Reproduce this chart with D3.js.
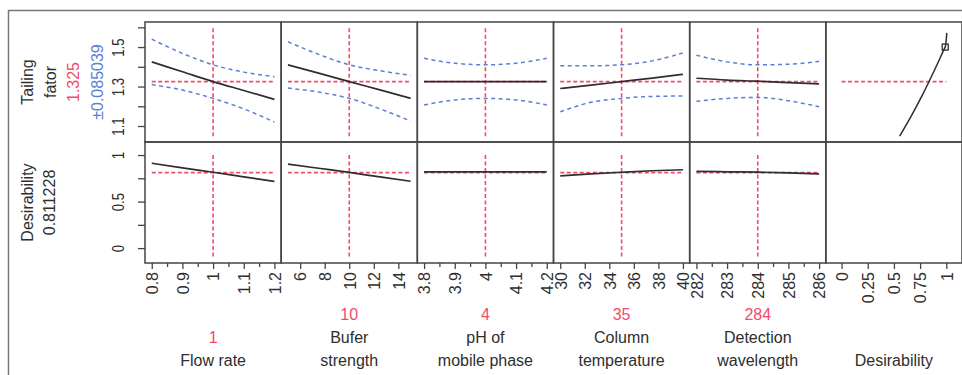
<!DOCTYPE html>
<html>
<head>
<meta charset="utf-8">
<script src="https://cdn.jsdelivr.net/npm/d3@7"></script>
<style>
  body { margin: 0; background: #fff; }
  svg text { font-family: "Liberation Sans", Arial, sans-serif; fill: #333; }
</style>
</head>
<body>
<div id="vis"></div>
<script>
// Prediction profiler: Tailing factor + Desirability vs five method factors.

const FACTOR_LABELS = [["Flow rate"], ["Bufer", "strength"], ["pH of", "mobile phase"], ["Column", "temperature"], ["Detection", "wavelength"]];
const FACTOR_CURRENT = [1, 10, 4, 35, 284];
const FACTOR_RANGE = [[0.8, 1.2], [5, 15], [3.8, 4.2], [30, 40], [282, 286]];
const FACTOR_TICKS = [[0.8, 0.9, 1, 1.1, 1.2], [6, 8, 10, 12, 14], [3.8, 3.9, 4, 4.1, 4.2], [30, 32, 34, 36, 38, 40], [282, 283, 284, 285, 286]];
const FACTOR_MINOR = [[0.85, 0.95, 1.05, 1.15], [], [3.85, 3.95, 4.05, 4.15], [], [282.5, 283.5, 284.5, 285.5]];

// sample points along each factor
const X_POINTS = [[0.8, 0.9, 1, 1.1, 1.2], [5, 7.5, 10, 12.5, 15], [3.8, 3.9, 4, 4.1, 4.2], [30, 32.5, 35, 37.5, 40], [282, 283, 284, 285, 286]];

const TAIL_PRED = [
  [1.425, 1.375, 1.325, 1.28, 1.235],
  [1.41, 1.368, 1.325, 1.283, 1.24],
  [1.325, 1.325, 1.325, 1.325, 1.325],
  [1.29, 1.307, 1.325, 1.343, 1.362],
  [1.342, 1.333, 1.327, 1.32, 1.313],
];
const TAIL_UPPER = [
  [1.54, 1.468, 1.41, 1.373, 1.35],
  [1.527, 1.463, 1.41, 1.38, 1.357],
  [1.443, 1.418, 1.41, 1.418, 1.443],
  [1.405, 1.405, 1.41, 1.43, 1.47],
  [1.459, 1.425, 1.41, 1.413, 1.428],
];
const TAIL_LOWER = [
  [1.31, 1.282, 1.24, 1.187, 1.12],
  [1.292, 1.272, 1.24, 1.187, 1.125],
  [1.207, 1.232, 1.24, 1.232, 1.207],
  [1.172, 1.22, 1.24, 1.25, 1.252],
  [1.225, 1.24, 1.245, 1.228, 1.198],
];
const DESIR_PRED = [
  [0.912, 0.862, 0.815, 0.765, 0.716],
  [0.903, 0.858, 0.813, 0.765, 0.718],
  [0.82, 0.82, 0.82, 0.82, 0.82],
  [0.775, 0.797, 0.815, 0.831, 0.842],
  [0.825, 0.82, 0.816, 0.808, 0.797],
];

// desirability function: tailing factor (y) vs desirability (x)
const DFUNC_D = [0.555, 0.665, 0.775, 0.88, 0.983, 0.99, 1.0, 1.005];
const DFUNC_T = [1.049, 1.15, 1.26, 1.375, 1.493, 1.5, 1.54, 1.572];
const DFUNC_MARK = [0.99, 1.5];

const TAIL_CURRENT = 1.325;
const TAIL_CI = "\u00b10.085039";
const DESIR_CURRENT = 0.811228;

const TAIL_TICKS = [1.1, 1.3, 1.5];
const TAIL_MINOR = [1.2, 1.4, 1.6];
const DESIR_TICKS = [0, 0.5, 1];
const DESIR_MINOR = [0.25, 0.75];
const DX_TICKS = [0, 0.25, 0.5, 0.75, 1];

// ── Layout ───────────────────────────────────────────────────────────────────

const W = 962, H = 375;
const pLeft = 145, pRight = 962, pTop = 22, pMid = 142, pBottom = 263;
const RED = "#f24a68", BLUE = "#5a7ed8", INK = "#2e2e2e";

const svg = d3.select("#vis").append("svg").attr("width", W).attr("height", H);

svg.append("rect").attr("x", 8.5).attr("y", 10.5).attr("width", 970).attr("height", 400)
  .attr("fill", "none").attr("stroke", "#777").attr("stroke-width", 1.5);

const cols = d3.scaleBand().domain(d3.range(6)).range([pLeft, pRight]);
const bw = cols.bandwidth();

const yTop = d3.scaleLinear().domain([1.019, 1.627]).range([pMid, pTop]);
const yBot = d3.scaleLinear().domain([-0.16, 1.14]).range([pBottom, pMid]);

const xScales = FACTOR_RANGE.map(([lo, hi], i) => {
  const pad = (hi - lo) * 0.055;
  return d3.scaleLinear().domain([lo - pad, hi + pad]).range([cols(i), cols(i) + bw]);
});
const xDes = d3.scaleLinear().domain([-0.15, 1.15]).range([cols(5), cols(5) + bw]);

const plot = svg.append("g");

function dashed(g, x1, y1, x2, y2) {
  g.append("line").attr("x1", x1).attr("y1", y1).attr("x2", x2).attr("y2", y2)
    .attr("stroke", RED).attr("stroke-width", 1.6).attr("stroke-dasharray", "4,2.5");
}

FACTOR_RANGE.forEach(([lo, hi], i) => {
  const xs = xScales[i];
  const pts = X_POINTS[i];
  const cx = xs(FACTOR_CURRENT[i]);

  // reference lines
  dashed(plot, cx, yTop(1.595), cx, yTop(1.046));
  dashed(plot, cx, yBot(1.0), cx, yBot(-0.1));
  dashed(plot, xs(lo), yTop(TAIL_CURRENT), xs(hi), yTop(TAIL_CURRENT));
  dashed(plot, xs(lo), yBot(DESIR_CURRENT), xs(hi), yBot(DESIR_CURRENT));

  const lineTop = d3.line().x((d, k) => xs(pts[k])).y(d => yTop(d)).curve(d3.curveMonotoneX);
  const lineBot = d3.line().x((d, k) => xs(pts[k])).y(d => yBot(d)).curve(d3.curveMonotoneX);

  [TAIL_UPPER[i], TAIL_LOWER[i]].forEach(s => {
    plot.append("path").attr("d", lineTop(s)).attr("fill", "none")
      .attr("stroke", BLUE).attr("stroke-width", 1.5).attr("stroke-dasharray", "4,3.5");
  });
  plot.append("path").attr("d", lineTop(TAIL_PRED[i])).attr("fill", "none")
    .attr("stroke", INK).attr("stroke-width", 1.7);
  plot.append("path").attr("d", lineBot(DESIR_PRED[i])).attr("fill", "none")
    .attr("stroke", INK).attr("stroke-width", 1.7);
});

// desirability function panel
dashed(plot, xDes(0), yTop(TAIL_CURRENT), xDes(1), yTop(TAIL_CURRENT));
plot.append("path")
  .attr("d", d3.line().x((d, k) => xDes(DFUNC_D[k])).y(d => yTop(d)).curve(d3.curveCatmullRom)(DFUNC_T))
  .attr("fill", "none").attr("stroke", INK).attr("stroke-width", 1.5);
plot.append("rect")
  .attr("x", xDes(DFUNC_MARK[0]) - 3).attr("y", yTop(DFUNC_MARK[1]) - 3)
  .attr("width", 6).attr("height", 6).attr("fill", "none").attr("stroke", INK).attr("stroke-width", 1.3);

// panel frames
[[pTop, pMid], [pMid, pBottom]].forEach(([y0, y1]) => {
  d3.range(6).forEach(i => {
    svg.append("rect").attr("x", cols(i)).attr("y", y0).attr("width", bw).attr("height", y1 - y0)
      .attr("fill", "none").attr("stroke", "#444").attr("stroke-width", 1.5);
  });
});

// ── Axes ─────────────────────────────────────────────────────────────────────

function styleAxis(ax) {
  ax.select(".domain").remove();
  ax.selectAll(".tick line").attr("stroke", "#444").attr("stroke-width", 1.3);
}

const allX = xScales.map((xs, i) => ({ xs, ticks: FACTOR_TICKS[i], minor: FACTOR_MINOR[i] }))
  .concat([{ xs: xDes, ticks: DX_TICKS, minor: [] }]);

allX.forEach(({ xs, ticks, minor }) => {
  svg.append("g").attr("transform", `translate(0,${pBottom})`)
    .call(d3.axisBottom(xs).tickValues(ticks).tickSize(6).tickFormat(d => String(d)))
    .call(styleAxis)
    .selectAll("text")
    .attr("transform", "rotate(-90)").attr("text-anchor", "end")
    .attr("x", -9).attr("y", 0).attr("dy", "0.36em")
    .style("font-size", "16px").style("fill", INK);
  if (minor.length) {
    svg.append("g").attr("transform", `translate(0,${pBottom})`)
      .call(d3.axisBottom(xs).tickValues(minor).tickSize(4).tickFormat(""))
      .call(styleAxis);
  }
});

[[yTop, TAIL_TICKS, TAIL_MINOR], [yBot, DESIR_TICKS, DESIR_MINOR]].forEach(([ys, ticks, minor]) => {
  svg.append("g").attr("transform", `translate(${pLeft},0)`)
    .call(d3.axisLeft(ys).tickValues(ticks).tickSize(7).tickFormat(d => String(d)))
    .call(styleAxis)
    .selectAll("text")
    .attr("transform", "rotate(-90) scale(0.82,1)").attr("text-anchor", "middle")
    .attr("x", 0).attr("y", -21).attr("dy", 0)
    .style("font-size", "16px").style("fill", INK);
  svg.append("g").attr("transform", `translate(${pLeft},0)`)
    .call(d3.axisLeft(ys).tickValues(minor).tickSize(7).tickFormat(""))
    .call(styleAxis);
});

// ── Labels ───────────────────────────────────────────────────────────────────

function vText(x, y, str, color) {
  svg.append("text").attr("transform", `translate(${x},${y}) rotate(-90)`)
    .attr("text-anchor", "middle").attr("dy", "0.36em")
    .style("font-size", "16px").style("fill", color).text(str);
}
const yc1 = (pTop + pMid) / 2, yc2 = (pMid + pBottom) / 2;
vText(27, yc1, "Tailing", INK);
vText(50, yc1, "fator", INK);
vText(73, yc1, String(TAIL_CURRENT), RED);
vText(97, yc1, TAIL_CI, BLUE);
vText(27, yc2, "Desirability", INK);
vText(49, yc2, String(DESIR_CURRENT), INK);

const LINE_Y = 360, LINE_H = 23;
FACTOR_LABELS.forEach((lines, i) => {
  const cx = cols(i) + bw / 2;
  const all = [{ t: String(FACTOR_CURRENT[i]), c: RED }].concat(lines.map(t => ({ t, c: INK })));
  all.forEach((d, k) => {
    svg.append("text").attr("x", cx).attr("y", LINE_Y - (all.length - 1 - k) * LINE_H)
      .attr("text-anchor", "middle").attr("dy", "0.36em")
      .style("font-size", "16px").style("fill", d.c).text(d.t);
  });
});
svg.append("text").attr("x", cols(5) + bw / 2).attr("y", LINE_Y)
  .attr("text-anchor", "middle").attr("dy", "0.36em")
  .style("font-size", "16px").style("fill", INK).text("Desirability");
</script>
</body>
</html>
